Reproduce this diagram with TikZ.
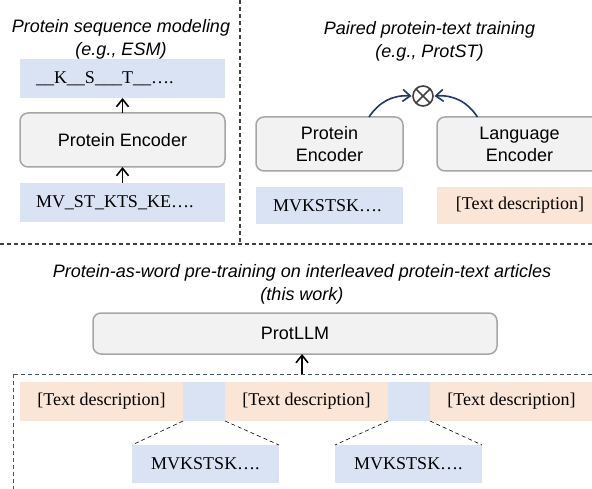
\documentclass[tikz,border=0pt]{standalone}
\usepackage{fontspec}
\setmainfont{Liberation Serif}
\setsansfont{Liberation Sans}
\usetikzlibrary{arrows.meta}
\definecolor{seqblue}{HTML}{DAE3F3}
\definecolor{txtorange}{HTML}{FBE5D6}
\definecolor{encfill}{HTML}{F2F2F2}
\definecolor{encdraw}{HTML}{A6A6A6}
\definecolor{navy}{HTML}{1F3864}
\definecolor{slate}{HTML}{44546A}
\definecolor{sepgray}{HTML}{404040}
\tikzset{
  every node/.style={outer sep=0pt},
  big/.style={font=\fontsize{18}{22}\selectfont},
  title/.style={font=\sffamily\itshape\fontsize{18}{23}\selectfont, align=center, inner sep=0pt},
  seqbox/.style={fill=seqblue, draw=none, big, inner ysep=0pt},
  txtbox/.style={fill=txtorange, draw=none, big, inner ysep=0pt},
  encbox/.style={fill=encfill, draw=encdraw, line width=1.5pt, rounded corners=8pt,
    font=\sffamily\fontsize{18}{22}\selectfont, align=center, inner sep=0pt},
  uparrow/.style={line width=1.6pt, -{Straight Barb[length=7.5pt,width=12pt]}},
  curvearrow/.style={line width=1.6pt, draw=navy, -{Straight Barb[length=7.5pt,width=12pt]}},
  sepline/.style={draw=sepgray, line width=1.2pt, dash pattern=on 4pt off 3pt},
  zoomline/.style={draw=black, line width=0.6pt, dash pattern=on 4pt off 3pt},
}
\begin{document}
\begin{tikzpicture}[x=1pt,y=-1pt]
\useasboundingbox (0,0) rectangle (592,489);
\clip (0,0) rectangle (592,489);

% separators
\coordinate (vtop) at (240,0);
\coordinate (vbot) at (240,244);
\coordinate (hl) at (0,244);
\coordinate (hr) at (592,244);
\draw[sepline] (vtop) -- (vbot);
\draw[sepline] (hl) -- (hr);

% ---- left panel
\node[seqbox, minimum width=205pt, minimum height=39pt, text width=173pt, inner xsep=16pt, align=left]
  (topseq) at (122.5,78.5) {\_\_K\_\_S\_\_\_T\_\_….};
\node[title] (t1) at (121,39.5) {Protein sequence modeling\\(e.g., ESM)};
\node[encbox, minimum width=205pt, minimum height=54pt] (enc1) at (122.5,140) {Protein Encoder};
\node[seqbox, minimum width=205pt, minimum height=39pt, text width=173pt, inner xsep=16pt, align=left]
  (botseq) at (122.5,202.5) {MV\_ST\_KTS\_KE….};
\draw[uparrow] (enc1.north) -- (topseq.south);
\draw[uparrow] (botseq.north) -- (enc1.south);

% ---- right panel
\node[title] (t2) at (429.5,41) {Paired protein-text training\\(e.g., ProtST)};
\node[encbox, minimum width=147pt, minimum height=54pt] (penc) at (329.5,144) {Protein\\Encoder};
\node[encbox, minimum width=165pt, minimum height=54pt] (lenc) at (519.5,144) {Language\\Encoder};
\node[seqbox, minimum width=147pt, minimum height=37pt, text width=113pt, inner xsep=17pt, align=left]
  (pseq) at (329.5,205.5) {MVKSTSK….};
\node[txtbox, minimum width=166pt, minimum height=37pt] (tdesc) at (520,205.5) {[Text description]};
\node[draw=sepgray, line width=1.6pt, circle, minimum size=20pt, inner sep=0pt] (otimes) at (423,96) {};
\draw[sepgray, line width=1.6pt] (otimes.north west) -- (otimes.south east);
\draw[sepgray, line width=1.6pt] (otimes.north east) -- (otimes.south west);
\draw[curvearrow] ([xshift=39.5pt]penc.north) to[bend left=30] ([xshift=-1.5pt]otimes.west);
\draw[curvearrow] ([xshift=-42pt]lenc.north) to[bend right=30] ([xshift=1.5pt]otimes.east);

% ---- bottom panel
\node[title] (t3) at (302,284.5) {Protein-as-word pre-training on interleaved protein-text articles\\(this work)};
\node[encbox, minimum width=404pt, minimum height=41pt] (llm) at (295,333.5) {ProtLLM};
\coordinate (rectnw) at (13,374);
\coordinate (rectse) at (600,500);
\draw[draw=slate, line width=1pt, dash pattern=on 4pt off 3pt] (rectnw) rectangle (rectse);
\coordinate (llmin) at (302,374);
\draw[uparrow] (llmin) -- (llmin |- llm.south);

\node[txtbox, minimum width=163pt, minimum height=39pt] (r1) at (101.5,401.5) {[Text description]};
\node[seqbox, minimum width=42pt, minimum height=39pt] (b1) at (204,401.5) {};
\node[txtbox, minimum width=163pt, minimum height=39pt] (r2) at (306.5,401.5) {[Text description]};
\node[seqbox, minimum width=42pt, minimum height=39pt] (b2) at (409,401.5) {};
\node[txtbox, minimum width=163pt, minimum height=39pt] (r3) at (511.5,401.5) {[Text description]};

\node[seqbox, minimum width=147pt, minimum height=38pt] (m1) at (205.5,464) {MVKSTSK….};
\node[seqbox, minimum width=147pt, minimum height=38pt] (m2) at (408.5,464) {MVKSTSK….};
\draw[zoomline] (b1.south west) -- (m1.north west);
\draw[zoomline] (b1.south east) -- (m1.north east);
\draw[zoomline] (b2.south west) -- (m2.north west);
\draw[zoomline] (b2.south east) -- (m2.north east);
\end{tikzpicture}
\end{document}
